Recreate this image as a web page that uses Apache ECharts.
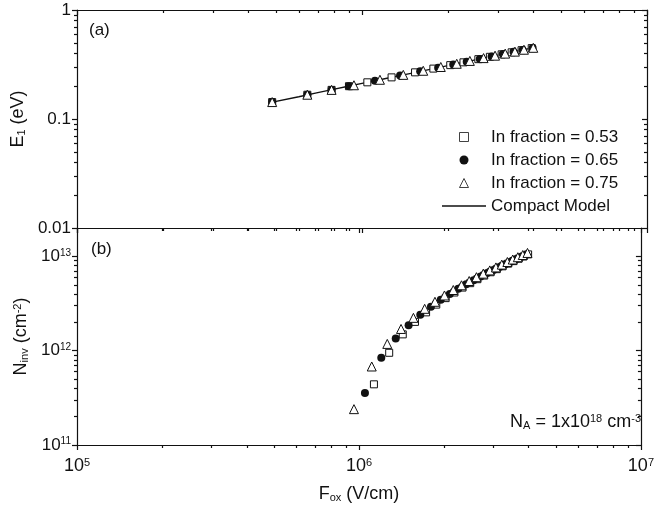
<!DOCTYPE html>
<html><head><meta charset="utf-8">
<script src="https://cdn.jsdelivr.net/npm/echarts@6/dist/echarts.min.js"></script>
<style>html,body{margin:0;padding:0;background:#fff}#c{width:657px;height:514px}</style>
</head><body><div id="c"></div>
<script>
// ---- data (F in V/cm) ----
// panel (a): E1 (eV)
const fA053 = [4.84e5, 6.43e5, 7.82e5, 9.0e5, 1.044e6, 1.27e6, 1.535e6, 1.78e6, 2.04e6, 2.27e6, 2.56e6, 2.81e6, 3.09e6, 3.35e6, 3.63e6, 3.94e6];
const eA053 = [0.143, 0.167, 0.185, 0.200, 0.217, 0.241, 0.268, 0.290, 0.312, 0.331, 0.354, 0.372, 0.392, 0.409, 0.428, 0.447];
const fA065 = [4.84e5, 6.43e5, 7.82e5, 9.0e5, 1.11e6, 1.36e6, 1.60e6, 1.85e6, 2.09e6, 2.33e6, 2.59e6, 2.85e6, 3.12e6, 3.40e6, 3.66e6, 3.97e6];
const eA065 = [0.143, 0.167, 0.185, 0.200, 0.224, 0.250, 0.274, 0.296, 0.317, 0.336, 0.356, 0.375, 0.394, 0.413, 0.430, 0.449];
const fA075 = [4.84e5, 6.43e5, 7.82e5, 9.37e5, 1.156e6, 1.396e6, 1.64e6, 1.89e6, 2.15e6, 2.39e6, 2.67e6, 2.93e6, 3.18e6, 3.44e6, 3.70e6, 3.99e6];
const eA075 = [0.143, 0.167, 0.185, 0.204, 0.229, 0.254, 0.277, 0.300, 0.321, 0.341, 0.362, 0.381, 0.398, 0.415, 0.432, 0.450];
const fModel = [4.8e5, 6.0e5, 8.0e5, 1.0e6, 1.2e6, 1.5e6, 2.0e6, 2.5e6, 3.0e6, 3.5e6, 4.0e6];
const eModel = [0.142, 0.160, 0.188, 0.212, 0.234, 0.264, 0.309, 0.349, 0.386, 0.419, 0.451];
// panel (b): Ninv (cm^-2)
const fB053 = [1.13e6, 1.28e6, 1.43e6, 1.58e6, 1.73e6, 1.88e6, 2.03e6, 2.18e6, 2.33e6, 2.48e6, 2.63e6, 2.78e6, 2.93e6, 3.08e6, 3.23e6, 3.38e6, 3.53e6, 3.68e6, 3.83e6, 3.98e6];
const nB053 = [0.44e12, 0.95e12, 1.49e12, 2.02e12, 2.55e12, 3.08e12, 3.61e12, 4.14e12, 4.67e12, 5.20e12, 5.73e12, 6.26e12, 6.79e12, 7.32e12, 7.85e12, 8.38e12, 8.91e12, 9.44e12, 9.97e12, 10.5e12];
const fB065 = [1.05e6, 1.20e6, 1.35e6, 1.50e6, 1.65e6, 1.80e6, 1.95e6, 2.10e6, 2.25e6, 2.40e6, 2.55e6, 2.70e6, 2.85e6, 3.00e6, 3.15e6, 3.30e6, 3.45e6, 3.60e6, 3.75e6, 3.90e6];
const nB065 = [0.355e12, 0.84e12, 1.35e12, 1.86e12, 2.40e12, 2.92e12, 3.46e12, 4.00e12, 4.54e12, 5.07e12, 5.60e12, 6.13e12, 6.66e12, 7.19e12, 7.72e12, 8.25e12, 8.78e12, 9.31e12, 9.84e12, 10.37e12];
const fB075 = [0.96e6, 1.11e6, 1.26e6, 1.41e6, 1.56e6, 1.71e6, 1.86e6, 2.01e6, 2.16e6, 2.31e6, 2.46e6, 2.61e6, 2.76e6, 2.91e6, 3.06e6, 3.21e6, 3.36e6, 3.51e6, 3.66e6, 3.81e6, 3.96e6];
const nB075 = [0.24e12, 0.68e12, 1.18e12, 1.70e12, 2.23e12, 2.78e12, 3.30e12, 3.85e12, 4.40e12, 4.94e12, 5.48e12, 6.02e12, 6.56e12, 7.10e12, 7.64e12, 8.18e12, 8.72e12, 9.26e12, 9.80e12, 10.34e12, 10.88e12];
// axis ticks
const xTickLabels = ['10{s|5}', '10{s|6}', '10{s|7}'];
const yTopLabels = ['0.01', '0.1', '1'];
const yBotLabels = ['10{s|11}', '10{s|12}', '10{s|13}'];
const yBotMajor = [1e11, 1e12, 1e13];
const yBotMinor = [2e11,3e11,4e11,5e11,6e11,7e11,8e11,9e11,2e12,3e12,4e12,5e12,6e12,7e12,8e12,9e12];
const names = ['In fraction = 0.53', 'In fraction = 0.65', 'In fraction = 0.75', 'Compact Model'];

const zip = (a, b) => a.map((v, i) => [v, b[i]]);
const FONT = 'Liberation Sans, Arial, sans-serif';
const INK = '#111';
const lineStyle = { color: INK, width: 1.2 };

function xAx(grid, pos, showLabel) {
  return {
    type: 'log', logBase: 10, gridIndex: grid, min: 1e5, max: 1e7, position: pos,
    axisLine: { show: true, onZero: false, lineStyle },
    axisTick: { show: true, inside: pos === 'top', length: 5, lineStyle },
    minorTick: { show: true, splitNumber: 9, length: 3, lineStyle },
    splitLine: { show: false }, minorSplitLine: { show: false },
    axisLabel: {
      show: showLabel, margin: 12, fontFamily: FONT, fontSize: 18, color: INK,
      formatter: v => xTickLabels[Math.round(Math.log10(v)) - 5],
      rich: { s: { fontSize: 11, fontFamily: FONT, color: INK, verticalAlign: 'top', lineHeight: 10 } }
    }
  };
}
function yTop(pos) {
  const left = pos === 'left';
  return {
    type: 'log', logBase: 10, gridIndex: 0, min: 0.01, max: 1, position: pos,
    axisLine: { show: true, onZero: false, lineStyle },
    axisTick: { show: true, inside: !left, length: 5, lineStyle },
    minorTick: { show: true, splitNumber: 9, length: 3, lineStyle },
    splitLine: { show: false },
    axisLabel: {
      show: left, margin: 6, fontFamily: FONT, fontSize: 17, color: INK,
      formatter: v => yTopLabels[Math.round(Math.log10(v)) + 2]
    },
    name: left ? 'E{sub|1} (eV)' : '', nameLocation: 'middle', nameGap: 44, nameRotate: 90,
    nameTextStyle: {
      fontFamily: FONT, fontSize: 18, color: INK,
      rich: { sub: { fontSize: 11, fontFamily: FONT, color: INK, verticalAlign: 'bottom', lineHeight: 8 } }
    }
  };
}
function yBot(pos, minor) {
  const left = pos === 'left';
  return {
    type: 'log', logBase: 10, gridIndex: 1, min: 1e11, max: 2e13, position: pos,
    axisLine: { show: !minor, onZero: false, lineStyle },
    axisTick: { show: true, inside: !left, length: minor ? 3 : 5, lineStyle, customValues: minor ? yBotMinor : yBotMajor },
    minorTick: { show: false },
    splitLine: { show: false },
    axisLabel: {
      show: left && !minor, margin: 6, fontFamily: FONT, fontSize: 17, color: INK,
      customValues: yBotMajor,
      formatter: v => yBotLabels[Math.round(Math.log10(v)) - 11],
      rich: { s: { fontSize: 10, fontFamily: FONT, color: INK, verticalAlign: 'top', lineHeight: 9 } }
    },
    name: (left && !minor) ? 'N{sub|inv} (cm{sup|-2})' : '', nameLocation: 'middle', nameGap: 44, nameRotate: 90,
    nameTextStyle: {
      fontFamily: FONT, fontSize: 18, color: INK,
      rich: {
        sub: { fontSize: 11, fontFamily: FONT, color: INK, verticalAlign: 'bottom', lineHeight: 8 },
        sup: { fontSize: 11, fontFamily: FONT, color: INK, verticalAlign: 'top', lineHeight: 8 }
      }
    }
  };
}

const sq = { symbol: 'rect', symbolSize: 7, itemStyle: { color: '#fff', borderColor: INK, borderWidth: 1, opacity: 1 } };
const ci = { symbol: 'circle', symbolSize: 8, itemStyle: { color: INK, borderColor: INK, borderWidth: 0, opacity: 1 } };
const tr = { symbol: 'triangle', symbolSize: 9, itemStyle: { color: '#fff', borderColor: INK, borderWidth: 1, opacity: 1 } };

const xb = Object.assign(xAx(1, 'bottom', true), {
  name: 'F{sub|ox} (V/cm)', nameLocation: 'middle', nameGap: 40,
  nameTextStyle: {
    fontFamily: FONT, fontSize: 18, color: INK,
    rich: { sub: { fontSize: 11, fontFamily: FONT, color: INK, verticalAlign: 'bottom', lineHeight: 8 } }
  }
});

const option = {
  animation: false,
  backgroundColor: '#fff',
  grid: [
    { left: 77, top: 10, width: 570, height: 218, containLabel: false },
    { left: 77, top: 228, width: 570, height: 217, containLabel: false }
  ],
  xAxis: [xAx(0, 'bottom', false), xAx(0, 'top', false), xb, xAx(1, 'top', false)],
  yAxis: [yTop('left'), yTop('right'), yBot('left', false), yBot('right', false), yBot('left', true), yBot('right', true)],
  legend: {
    data: [
      { name: names[0], icon: 'path://M0.5,0.5L8.5,0.5L8.5,8.5L0.5,8.5Z', itemStyle: { color: '#fff', borderColor: INK, borderWidth: 0.8 } },
      { name: names[1], icon: 'circle' },
      { name: names[2], icon: 'path://M5,0.5L9.5,9.5L0.5,9.5Z', itemStyle: { color: '#fff', borderColor: INK, borderWidth: 0.8 } },
      { name: names[3], icon: 'path://M0,0L44,0L44,1.4L0,1.4Z', itemStyle: { color: INK, borderWidth: 0 } }
    ],
    orient: 'vertical', left: 437, top: 122, itemWidth: 44, itemHeight: 9, itemGap: 3,
    symbolKeepAspect: true,
    textStyle: { fontFamily: FONT, fontSize: 17, color: INK, lineHeight: 20 },
    selectedMode: false
  },
  graphic: [
    { type: 'text', left: 89, top: 22, style: { text: '(a)', font: '17px ' + FONT, fill: INK } },
    { type: 'text', left: 91, top: 241, style: { text: '(b)', font: '17px ' + FONT, fill: INK } },
    { type: 'text', right: 16, top: 413, style: {
      text: 'N{sub|A} = 1x10{sup|18} cm{sup|-3}', font: '18px ' + FONT, fill: INK,
      rich: {
        sub: { fontSize: 11, fontFamily: FONT, fill: INK, verticalAlign: 'bottom', lineHeight: 8 },
        sup: { fontSize: 11, fontFamily: FONT, fill: INK, verticalAlign: 'top', lineHeight: 8 }
      } } }
  ],
  series: [
    Object.assign({ name: names[0], type: 'scatter', xAxisIndex: 0, yAxisIndex: 0, data: zip(fA053, eA053) }, sq),
    Object.assign({ name: names[1], type: 'scatter', xAxisIndex: 0, yAxisIndex: 0, data: zip(fA065, eA065) }, ci),
    Object.assign({ name: names[2], type: 'scatter', xAxisIndex: 0, yAxisIndex: 0, data: zip(fA075, eA075) }, tr),
    { name: names[3], type: 'line', xAxisIndex: 0, yAxisIndex: 0, data: zip(fModel, eModel), symbol: 'none', showSymbol: false, smooth: true, lineStyle: { color: INK, width: 1.3 }, itemStyle: { color: INK }, z: 1 },
    Object.assign({ name: names[0], type: 'scatter', xAxisIndex: 2, yAxisIndex: 2, data: zip(fB053, nB053) }, sq),
    Object.assign({ name: names[1], type: 'scatter', xAxisIndex: 2, yAxisIndex: 2, data: zip(fB065, nB065) }, ci),
    Object.assign({ name: names[2], type: 'scatter', xAxisIndex: 2, yAxisIndex: 2, data: zip(fB075, nB075) }, tr)
  ]
};
const chart = echarts.init(document.getElementById('c'), null, { renderer: 'canvas' });
chart.setOption(option);
</script>
</body></html>
